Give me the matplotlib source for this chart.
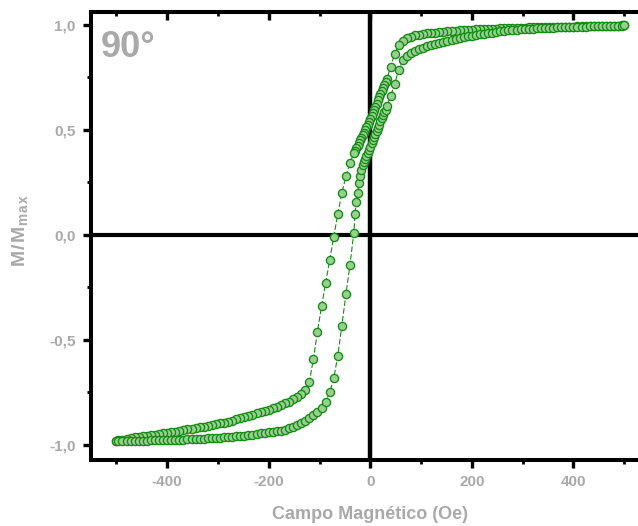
import matplotlib
matplotlib.use("Agg")
import matplotlib.pyplot as plt
from matplotlib.ticker import MultipleLocator, FixedLocator, FixedFormatter

plt.rcParams['font.family'] = ['Liberation Sans', 'DejaVu Sans']

# Applied field (Oe), shared by both sweep directions (ascending order)
field = [
    -500, -496, -488, -480, -472, -464, -456, -448, -440, -432,
    -424, -416, -408, -400, -392, -384, -376, -368, -360, -352,
    -344, -336, -328, -320, -312, -304, -296, -288, -280, -272,
    -264, -256, -248, -240, -232, -224, -216, -208, -200, -192,
    -184, -176, -168, -160, -152, -144, -136, -128, -120, -112,
    -104, -96, -88, -80, -72, -64, -56, -48, -40,
    -32.5, -30, -27.5, -25, -22.5, -20, -17.5, -15, -12.5, -10,
    -7.5, -5, -2.5, 0, 2.5, 5, 7.5, 10, 12.5, 15,
    17.5, 20, 22.5, 25, 27.5, 30, 32.5,
    40, 48, 56, 64, 72, 80, 88, 96, 104, 112,
    120, 128, 136, 144, 152, 160, 168, 176, 184, 192,
    200, 208, 216, 224, 232, 240, 248, 256, 264, 272,
    280, 288, 296, 304, 312, 320, 328, 336, 344, 352,
    360, 368, 376, 384, 392, 400, 408, 416, 424, 432,
    440, 448, 456, 464, 472, 480, 488, 496, 500,
]

# Normalised magnetisation, branch swept from +H to -H (listed in ascending field order)
m_down = [
    -0.980, -0.978, -0.975, -0.972, -0.968, -0.964, -0.961, -0.958, -0.955, -0.953,
    -0.950, -0.948, -0.945, -0.942, -0.939, -0.936, -0.933, -0.930, -0.926, -0.922,
    -0.919, -0.915, -0.912, -0.908, -0.904, -0.900, -0.897, -0.893, -0.889, -0.884,
    -0.878, -0.872, -0.866, -0.860, -0.855, -0.850, -0.845, -0.838, -0.832, -0.825,
    -0.818, -0.810, -0.802, -0.793, -0.783, -0.771, -0.757, -0.738, -0.700, -0.590,
    -0.460, -0.340, -0.230, -0.120, -0.010, 0.100, 0.200, 0.278, 0.340,
    0.390, 0.400, 0.412, 0.425, 0.437, 0.450, 0.462, 0.475, 0.487, 0.500,
    0.512, 0.525, 0.537, 0.550, 0.565, 0.580, 0.595, 0.610, 0.625, 0.640,
    0.655, 0.670, 0.685, 0.700, 0.715, 0.727, 0.740,
    0.800, 0.860, 0.905, 0.925, 0.937, 0.944, 0.949, 0.953, 0.956, 0.959,
    0.961, 0.963, 0.965, 0.967, 0.969, 0.971, 0.972, 0.973, 0.975, 0.976,
    0.977, 0.978, 0.979, 0.980, 0.981, 0.982, 0.982, 0.983, 0.984, 0.984,
    0.985, 0.985, 0.986, 0.986, 0.987, 0.987, 0.988, 0.988, 0.988, 0.989,
    0.989, 0.990, 0.990, 0.990, 0.991, 0.991, 0.992, 0.992, 0.992, 0.993,
    0.993, 0.994, 0.994, 0.995, 0.995, 0.996, 0.996, 0.997, 0.997,
]

# Normalised magnetisation, branch swept from -H to +H
m_up = [
    -0.981, -0.981, -0.981, -0.980, -0.980, -0.980, -0.979, -0.979, -0.979, -0.978,
    -0.978, -0.977, -0.977, -0.976, -0.976, -0.975, -0.975, -0.974, -0.973, -0.972,
    -0.971, -0.970, -0.969, -0.968, -0.967, -0.966, -0.965, -0.963, -0.962, -0.960,
    -0.958, -0.957, -0.955, -0.953, -0.951, -0.948, -0.945, -0.943, -0.940, -0.938,
    -0.935, -0.932, -0.927, -0.920, -0.912, -0.903, -0.895, -0.885, -0.872, -0.858,
    -0.843, -0.825, -0.794, -0.749, -0.683, -0.575, -0.432, -0.282, -0.143,
    0.010, 0.100, 0.155, 0.200, 0.248, 0.280, 0.310, 0.333, 0.346, 0.360,
    0.375, 0.390, 0.405, 0.420, 0.435, 0.450, 0.465, 0.480, 0.495, 0.510,
    0.525, 0.540, 0.555, 0.570, 0.583, 0.595, 0.615,
    0.660, 0.720, 0.785, 0.830, 0.852, 0.865, 0.875, 0.883, 0.891, 0.898,
    0.905, 0.910, 0.915, 0.920, 0.925, 0.929, 0.933, 0.937, 0.941, 0.945,
    0.948, 0.951, 0.954, 0.957, 0.960, 0.963, 0.966, 0.968, 0.971, 0.973,
    0.975, 0.977, 0.979, 0.980, 0.981, 0.982, 0.983, 0.984, 0.985, 0.986,
    0.986, 0.987, 0.988, 0.988, 0.989, 0.990, 0.990, 0.991, 0.991, 0.992,
    0.992, 0.993, 0.994, 0.994, 0.995, 0.995, 0.996, 0.996, 0.997,
]

x_ticks = [-400, -200, 0, 200, 400]
x_tick_labels = ["-400", "-200", "0", "200", "400"]
y_ticks = [-1.0, -0.5, 0.0, 0.5, 1.0]
y_tick_labels = ["-1,0", "-0,5", "0,0", "0,5", "1,0"]

GREY = "#a9a9a9"
GREEN = "#148a14"
FILL = "#96d08f"

fig = plt.figure(figsize=(6.38, 5.26), dpi=100)
ax = fig.add_axes([0.1426, 0.1264, 0.8756, 0.8517])

# reference cross through the origin
ax.axhline(0, color="black", lw=3.0, zorder=1)
ax.axvline(0, color="black", lw=3.2, zorder=1)

# both sweep directions; the loop is traced in measurement order
sweep_h = field[::-1] + field
sweep_m = m_down[::-1] + m_up
ax.plot(sweep_h, sweep_m, linestyle=(0, (5, 2)), lw=0.8, color=GREEN, zorder=2)
ax.plot(sweep_h, sweep_m, linestyle="none",
        marker="o", markersize=5.9, markerfacecolor=FILL,
        markeredgecolor=GREEN, markeredgewidth=0.95, zorder=3)

ax.set_xlim(-550, 550)
ax.set_ylim(-1.069, 1.063)

for side in ("left", "bottom", "top", "right"):
    ax.spines[side].set_linewidth(2.9)

ax.xaxis.set_major_locator(FixedLocator(x_ticks))
ax.xaxis.set_major_formatter(FixedFormatter(x_tick_labels))
ax.xaxis.set_minor_locator(MultipleLocator(100))
ax.yaxis.set_major_locator(FixedLocator(y_ticks))
ax.yaxis.set_major_formatter(FixedFormatter(y_tick_labels))
ax.yaxis.set_minor_locator(MultipleLocator(0.25))

ax.tick_params(which="major", direction="out", length=6, width=2.4,
               labelsize=11, labelcolor=GREY, pad=5)
ax.tick_params(which="minor", direction="out", length=3, width=2.0)
ax.tick_params(top=False, right=False, which="both")
for lab in ax.get_xticklabels() + ax.get_yticklabels():
    lab.set_fontweight("bold")

top = ax.secondary_xaxis("top")
top.xaxis.set_major_locator(FixedLocator(x_ticks))
top.xaxis.set_minor_locator(MultipleLocator(100))
top.tick_params(which="major", direction="in", length=6, width=2.4, labeltop=False)
top.tick_params(which="minor", direction="in", length=3, width=2.0)
top.spines["top"].set_linewidth(2.9)

ax.set_xlabel("Campo Magnético (Oe)", fontsize=13, fontweight="bold", color=GREY)
ax.xaxis.set_label_coords(0.5, -0.104)
ax.set_ylabel("M\u200a/\u200aM$_{\\mathregular{m\u200aa\u200ax}}$", fontsize=14,
              fontweight="bold", color=GREY)
ax.yaxis.set_label_coords(-0.108, 0.51)

ax.text(0.017, 0.898, "90°", transform=ax.transAxes, fontsize=26,
        fontweight="bold", color=GREY, ha="left", va="baseline")

fig.savefig("out.png", dpi=100)
